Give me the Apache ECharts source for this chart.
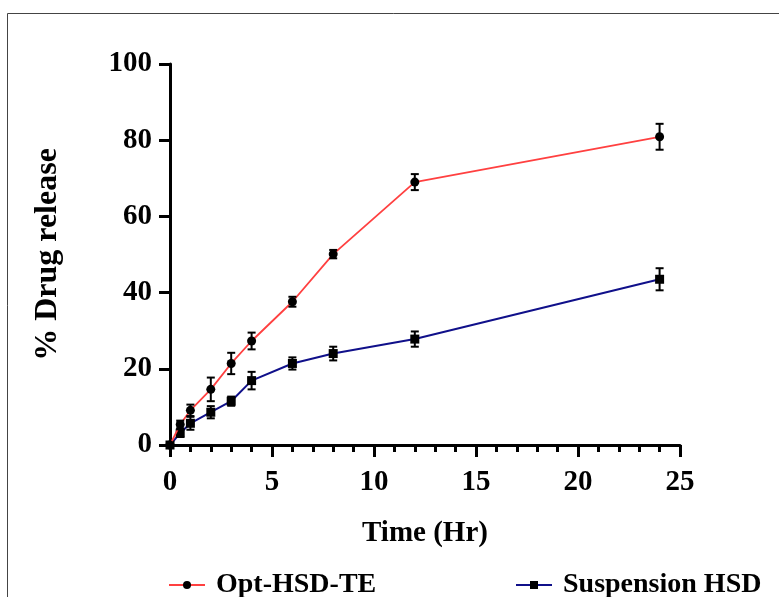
<!DOCTYPE html>
<html>
<head>
<meta charset="utf-8">
<script src="https://cdn.jsdelivr.net/npm/echarts@6/dist/echarts.min.js"></script>
<style>
html, body { margin: 0; padding: 0; background: #fff; }
#chart { width: 779px; height: 597px; }
</style>
</head>
<body>
<div id="chart"></div>
<script>
// time points (hr) and % drug release, with SD for the error bars
const timeHr = [0, 0.5, 1, 2, 3, 4, 6, 8, 12, 24];
const optRelease = [0, 5.4, 9.1, 14.6, 21.4, 27.3, 37.6, 50.1, 69.0, 80.9];
const optSD = [0, 1.0, 1.5, 3.1, 2.8, 2.2, 1.3, 1.1, 2.1, 3.4];
const suspRelease = [0, 3.1, 5.7, 8.6, 11.5, 16.9, 21.4, 24.0, 27.8, 43.5];
const suspSD = [0, 1.0, 1.7, 1.6, 1.2, 2.3, 1.6, 1.8, 2.0, 2.9];
const seriesNames = ['Opt-HSD-TE', 'Suspension HSD'];

const font = '"Liberation Serif", "Times New Roman", serif';

function pairs(vals) {
    return timeHr.map(function (t, i) { return [t, vals[i]]; });
}
function bars(vals, sd) {
    return timeHr.map(function (t, i) { return [t, vals[i] - sd[i], vals[i] + sd[i]]; });
}

function errorBar(params, api) {
    let x = api.value(0);
    let lo = api.coord([x, api.value(1)]);
    let hi = api.coord([x, api.value(2)]);
    let w = 4;
    let st = { stroke: '#000', lineWidth: 2 };
    return {
        type: 'group',
        children: [
            { type: 'line', shape: { x1: hi[0], y1: hi[1], x2: lo[0], y2: lo[1] }, style: st },
            { type: 'line', shape: { x1: hi[0] - w, y1: hi[1], x2: hi[0] + w, y2: hi[1] }, style: st },
            { type: 'line', shape: { x1: lo[0] - w, y1: lo[1], x2: lo[0] + w, y2: lo[1] }, style: st }
        ]
    };
}

let chart = echarts.init(document.getElementById('chart'));
let axisBlack = { lineStyle: { color: '#000', width: 3 } };

let option = {
    backgroundColor: '#fff',
    animation: false,
    graphic: [{
        type: 'rect',
        shape: { x: 7.5, y: 13.5, width: 900, height: 800 },
        style: { fill: 'none', stroke: '#444', lineWidth: 1 }
    }],
    grid: { left: 170, top: 64, right: 99, bottom: 152 },
    legend: [
        {
            data: [seriesNames[0]], left: 163, top: 566,
            itemWidth: 36, itemHeight: 10, itemGap: 0,
            textStyle: { fontFamily: font, fontWeight: 'bold', fontSize: 28, color: '#000', padding: [0, 0, 0, 6] }
        },
        {
            data: [seriesNames[1]], left: 510, top: 566,
            itemWidth: 36, itemHeight: 10, itemGap: 0,
            textStyle: { fontFamily: font, fontWeight: 'bold', fontSize: 28, color: '#000', padding: [0, 0, 0, 6] }
        }
    ],
    xAxis: {
        type: 'value', min: 0, max: 25, interval: 5,
        name: 'Time (Hr)', nameLocation: 'middle', nameGap: 74,
        nameTextStyle: { fontFamily: font, fontWeight: 'bold', fontSize: 29, color: '#000' },
        axisLine: axisBlack,
        axisTick: { length: 12, lineStyle: { color: '#000', width: 3 } },
        minorTick: { show: true, splitNumber: 5, length: 7, lineStyle: { color: '#000', width: 3 } },
        axisLabel: { fontFamily: font, fontWeight: 'bold', fontSize: 29, color: '#000', margin: 23 },
        splitLine: { show: false }
    },
    yAxis: {
        type: 'value', min: 0, max: 100, interval: 20,
        name: '% Drug release', nameLocation: 'middle', nameGap: 106, nameRotate: 90,
        nameTextStyle: { fontFamily: font, fontWeight: 'bold', fontSize: 32, color: '#000' },
        axisLine: { show: true, lineStyle: { color: '#000', width: 3 } },
        axisTick: { show: true, length: 11, lineStyle: { color: '#000', width: 3 } },
        axisLabel: { fontFamily: font, fontWeight: 'bold', fontSize: 29, color: '#000', margin: 18 },
        splitLine: { show: false }
    },
    series: [
        {
            name: seriesNames[1], type: 'line', data: pairs(suspRelease),
            symbol: 'rect', symbolSize: 9, z: 3,
            lineStyle: { color: '#10108a', width: 2 },
            itemStyle: { color: '#000' }
        },
        {
            name: seriesNames[0], type: 'line', data: pairs(optRelease),
            symbol: 'circle', symbolSize: 9, z: 4,
            lineStyle: { color: '#ff4040', width: 1.8 },
            itemStyle: { color: '#000' }
        },
        {
            name: 'optErr', type: 'custom', renderItem: errorBar, z: 5,
            encode: { x: 0, y: [1, 2] }, data: bars(optRelease, optSD)
        },
        {
            name: 'suspErr', type: 'custom', renderItem: errorBar, z: 5,
            encode: { x: 0, y: [1, 2] }, data: bars(suspRelease, suspSD)
        }
    ]
};
chart.setOption(option);
</script>
</body>
</html>
